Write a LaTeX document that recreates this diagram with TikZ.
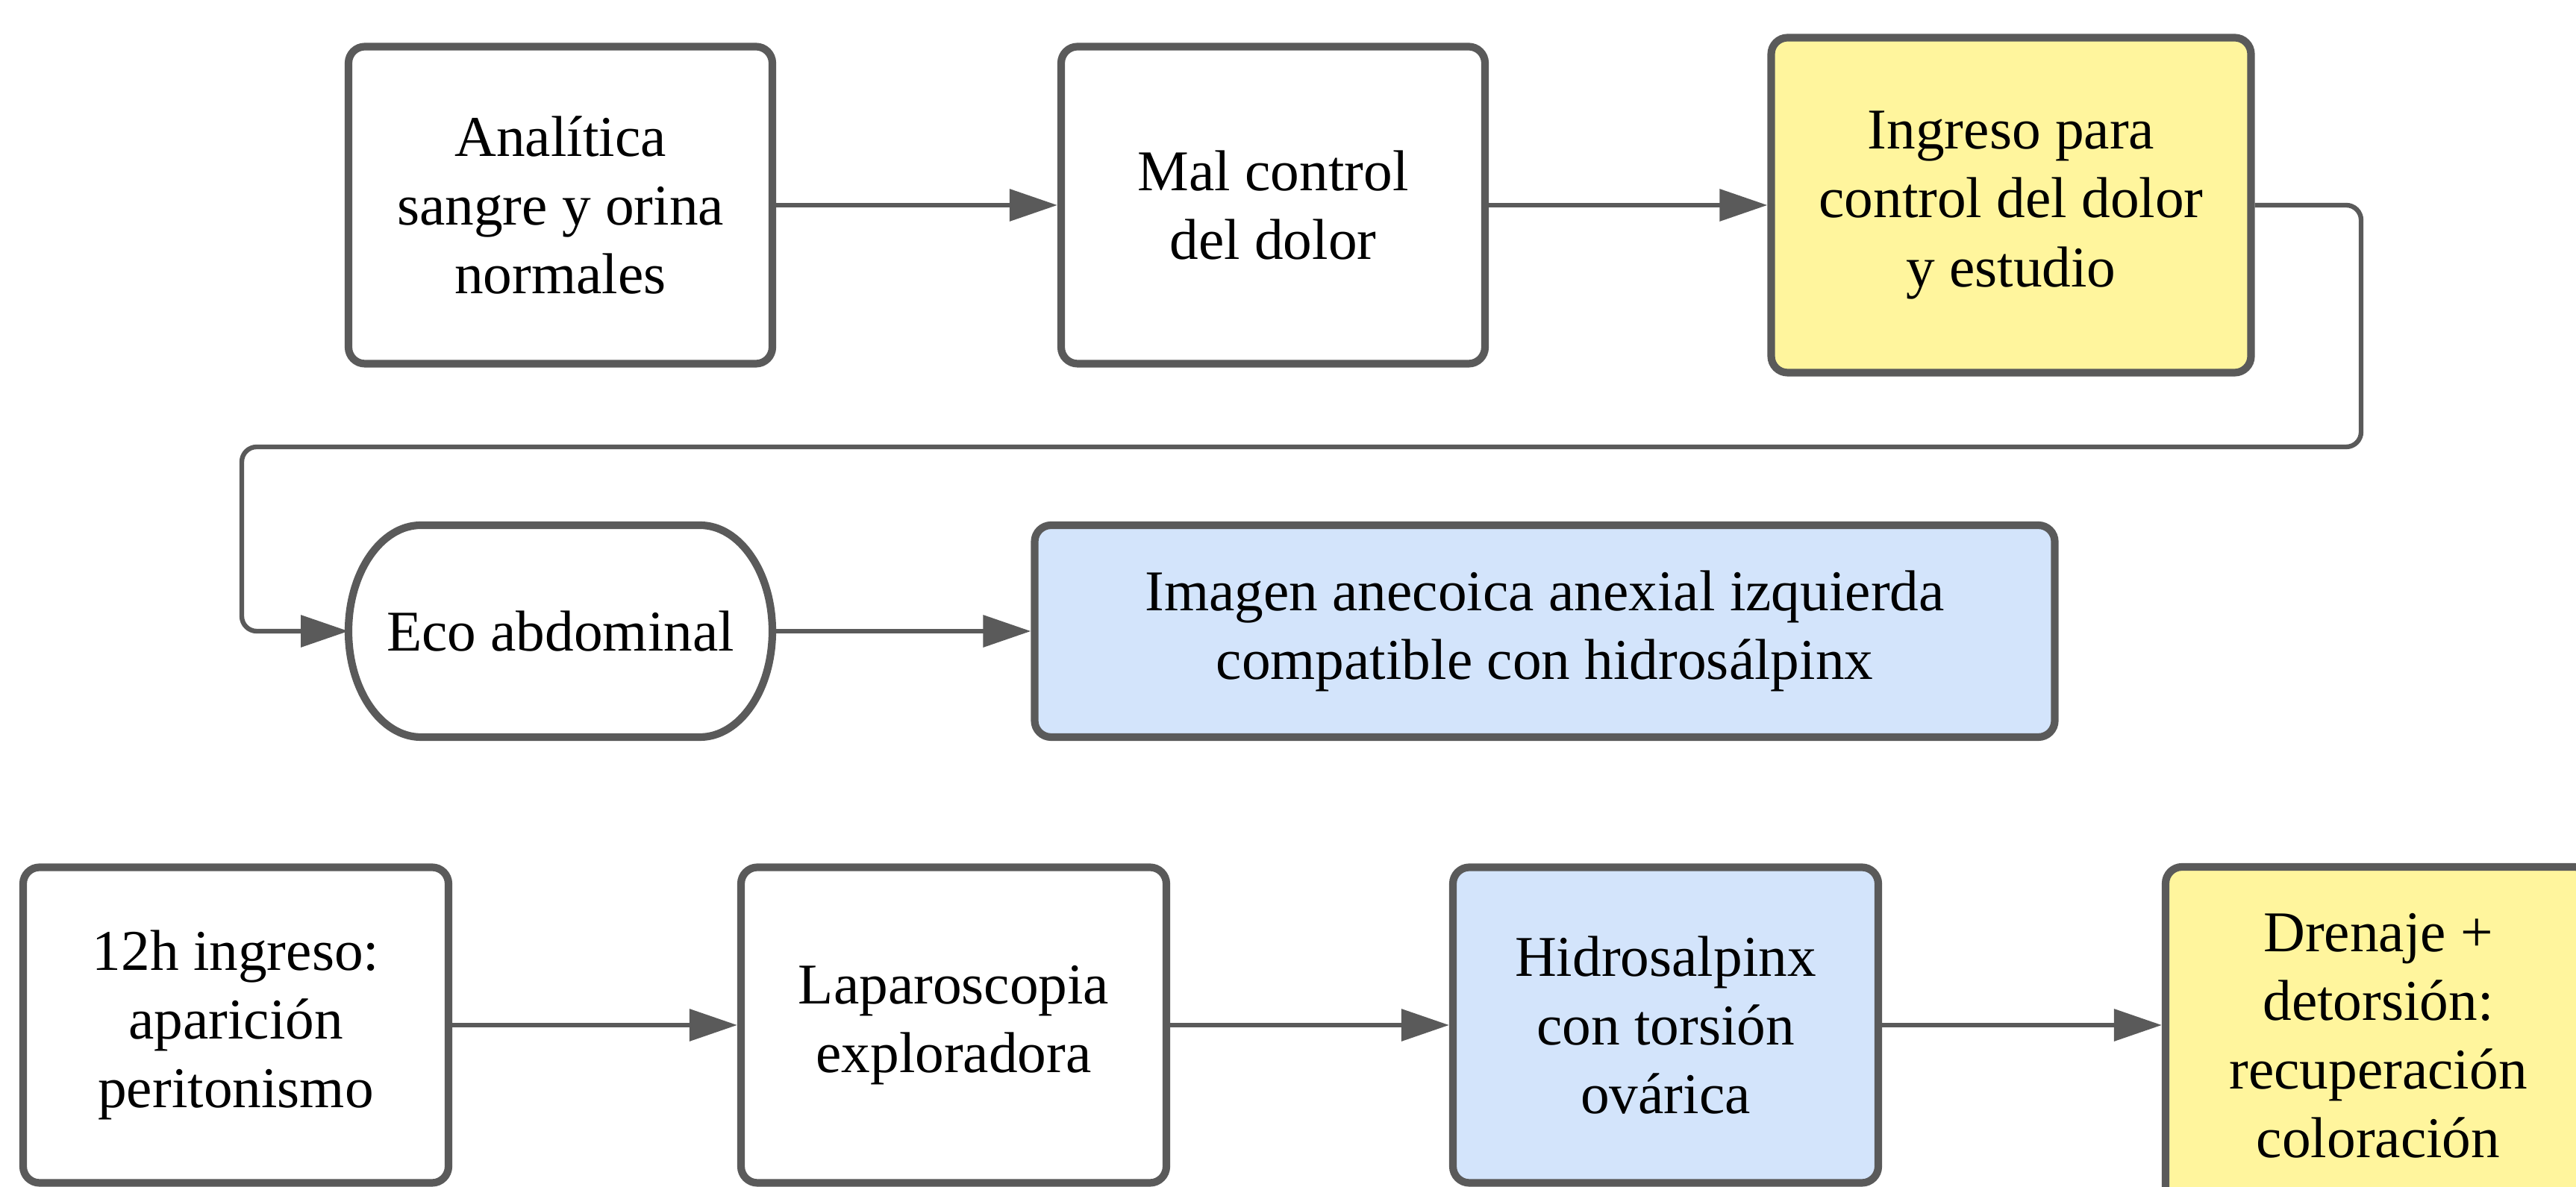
\documentclass[tikz,border=0pt]{standalone}
\usepackage{fontspec}
\setmainfont{Liberation Serif}
\usetikzlibrary{arrows.meta}

\definecolor{edgegray}{HTML}{5A5A5A}
\definecolor{noteyellow}{HTML}{FFF59D}
\definecolor{noteblue}{HTML}{D3E4FB}

\tikzset{
	stepbox/.style={draw=edgegray, fill=white, line width=2.9pt, rounded corners=0.22cm, align=center,
		font=\fontsize{22}{26.2}\selectfont, inner sep=0pt, minimum width=5.68cm, minimum height=4.25cm},
	link/.style={draw=edgegray, line width=1.8pt, -{Triangle[length=6.4mm, width=4.2mm]}},
}

\begin{document}
\begin{tikzpicture}
			\useasboundingbox (0,0) rectangle (34.52,15.91);
			% primera fila
			\node[stepbox] (analitica) at (7.51,13.16) {Analítica\\sangre y orina\\normales};
			\node[stepbox] (malcontrol) at (17.06,13.16) {Mal control\\del dolor};
			\node[stepbox, fill=noteyellow, minimum width=6.43cm, minimum height=4.49cm] (ingreso) at (26.95,13.16) {Ingreso para\\control del dolor\\y estudio};
			% segunda fila
			\node[stepbox, draw=none, outer sep=0pt, minimum height=2.84cm] (eco) at (7.51,7.45) {Eco abdominal};
			\draw[edgegray, line width=2.9pt] ([xshift=0.97cm]eco.north west) -- ([xshift=-0.97cm]eco.north east)
				arc[start angle=90, end angle=-90, x radius=0.97cm, y radius=1.42cm] -- ([xshift=0.97cm]eco.south west)
				arc[start angle=270, end angle=90, x radius=0.97cm, y radius=1.42cm] -- cycle;
			\node[stepbox, fill=noteblue, minimum width=13.67cm, minimum height=2.84cm] (imagen) at (20.70,7.45) {Imagen anecoica anexial izquierda\\compatible con hidrosálpinx};
			% tercera fila
			\node[stepbox, minimum width=5.70cm, minimum height=4.23cm] (peritonismo) at (3.16,2.17) {12h ingreso:\\aparición\\peritonismo};
			\node[stepbox, minimum width=5.70cm, minimum height=4.23cm] (laparoscopia) at (12.78,2.17) {Laparoscopia\\exploradora};
			\node[stepbox, fill=noteblue, minimum width=5.70cm, minimum height=4.23cm] (hidrosalpinx) at (22.32,2.17) {Hidrosalpinx\\con torsión\\ovárica};
			\node[stepbox, fill=noteyellow, minimum width=5.70cm, minimum height=4.52cm] (drenaje) at (31.87,2.03) {Drenaje +\\detorsión:\\recuperación\\coloración};
			% conectores
			\coordinate (vueltaR) at (31.64,9.92);
			\coordinate (vueltaL) at (3.24,9.92);
			\draw[link] (analitica) -- (malcontrol);
			\draw[link] (malcontrol) -- (ingreso);
			\draw[link, rounded corners=0.2cm] (ingreso.east) -| (vueltaR) -- (vueltaL) |- (eco.west);
			\draw[link] (eco) -- (imagen);
			\draw[link] (peritonismo) -- (laparoscopia);
			\draw[link] (laparoscopia) -- (hidrosalpinx);
			\draw[link] (hidrosalpinx.east) -- (hidrosalpinx.east -| drenaje.west);
		\end{tikzpicture}
\end{document}
